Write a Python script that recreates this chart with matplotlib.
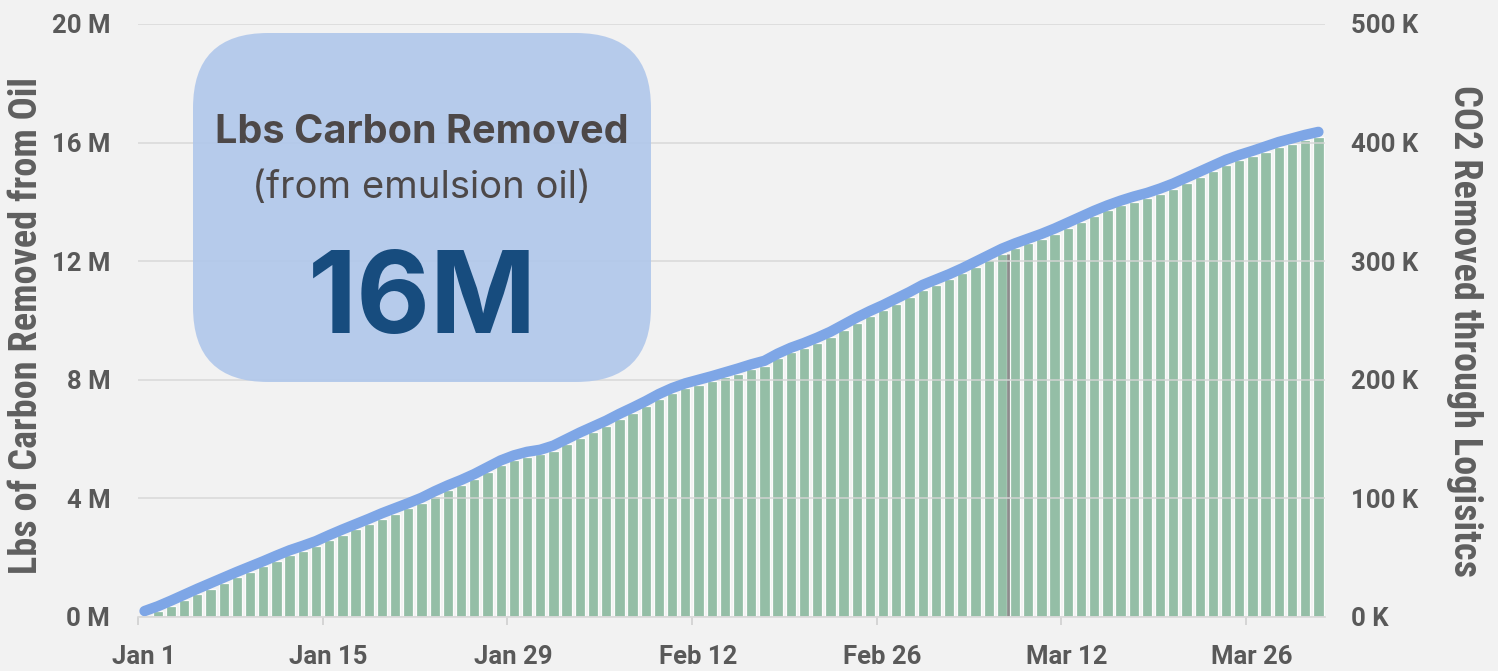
import numpy as np
import matplotlib.pyplot as plt
from matplotlib.patches import FancyBboxPatch
from matplotlib.transforms import ScaledTranslation

plt.rcParams['font.family'] = ['Roboto', 'DejaVu Sans']

# daily cumulative values, Jan 1 .. Mar 31
oil_lbs_m = [0.2, 0.36, 0.55, 0.75, 0.95, 1.14, 1.33, 1.52, 1.7, 1.88,
             2.07, 2.25, 2.4, 2.56, 2.76, 2.95, 3.13, 3.31, 3.5, 3.67,
             3.84, 4.02, 4.24, 4.44, 4.62, 4.82, 5.05, 5.28, 5.45, 5.57,
             5.64, 5.78, 6.0, 6.22, 6.42, 6.62, 6.85, 7.06, 7.28, 7.52,
             7.72, 7.88, 8.0, 8.12, 8.25, 8.38, 8.52, 8.64, 8.88, 9.08,
             9.24, 9.42, 9.62, 9.86, 10.1, 10.32, 10.52, 10.74, 10.96, 11.2,
             11.38, 11.56, 11.76, 11.98, 12.2, 12.42, 12.6, 12.76, 12.92, 13.1,
             13.3, 13.5, 13.7, 13.88, 14.04, 14.18, 14.3, 14.45, 14.62, 14.82,
             15.02, 15.22, 15.42, 15.58, 15.72, 15.87, 16.02, 16.14, 16.26, 16.36]
co2_k = [1, 5, 9, 14, 19, 24, 29, 34, 38, 43,
         47, 52, 56, 60, 65, 69, 74, 78, 83, 87,
         92, 96, 102, 107, 111, 116, 122, 128, 132, 135,
         137, 140, 146, 151, 156, 161, 167, 172, 178, 184,
         189, 193, 196, 199, 202, 205, 209, 212, 218, 223,
         227, 231, 236, 242, 248, 254, 259, 264, 270, 276,
         280, 285, 290, 295, 301, 306, 311, 315, 319, 323,
         328, 333, 338, 343, 347, 350, 353, 357, 361, 366,
         371, 376, 381, 385, 389, 392, 396, 399, 402, 405]
date_ticks = [0, 14, 28, 42, 56, 70, 84]
date_labels = ['Jan 1', 'Jan 15', 'Jan 29', 'Feb 12', 'Feb 26', 'Mar 12', 'Mar 26']
left_ticks = [0, 4, 8, 12, 16, 20]
right_ticks = [0, 100, 200, 300, 400, 500]
marker_day = 65

days = np.arange(len(oil_lbs_m))
bg = '#f2f2f2'
tick_col = '#595959'

fig = plt.figure(figsize=(14.98, 6.71), dpi=100, facecolor=bg)
ax = fig.add_axes([0.0921, 0.0805, 0.7924, 0.8838])
ax2 = ax.twinx()
ax.set_zorder(ax2.get_zorder() + 1)
ax.patch.set_visible(False)
ax2.patch.set_facecolor(bg)

ax2.bar(days + 0.5, co2_k, width=0.78, color='#94bea6', edgecolor='#fbfbfb', linewidth=0.9)
ax2.vlines(marker_day + 1, 0, co2_k[marker_day], color='#8c8c8c', lw=2, zorder=3)
ax.plot(days + 0.5, oil_lbs_m, color='#7ea6e6', lw=7.5,
        solid_capstyle='round', solid_joinstyle='round')

ax.set_xlim(0, 90)
ax.set_ylim(0, 20)
ax2.set_ylim(0, 500)

ax.set_yticks(left_ticks, labels=['%d M' % v for v in left_ticks], fontweight='bold')
ax2.set_yticks(right_ticks, labels=['%d K' % v for v in right_ticks], fontweight='bold')
ax.set_xticks(date_ticks, labels=date_labels, fontweight='bold')

ax.set_axisbelow(True)
ax.grid(axis='y', color='#d6d6d6', lw=1.2, alpha=0.85)
ax.tick_params(axis='y', length=0, pad=20, labelsize=18.5, labelcolor=tick_col)
ax2.tick_params(axis='y', length=0, pad=19, labelsize=18.5, labelcolor=tick_col)
ax.tick_params(axis='x', length=6, width=1.2, color='#d0d0d0', pad=14,
               labelsize=18.5, labelcolor=tick_col)
# date labels sit a little to the right of their ticks
shift = ScaledTranslation(0.06, 0, fig.dpi_scale_trans)
for lbl in ax.get_xticklabels():
    lbl.set_transform(lbl.get_transform() + shift)

for s in ['top', 'left', 'right']:
    ax.spines[s].set_visible(False)
ax.spines['bottom'].set_color('#d9d9d9')
ax.spines['bottom'].set_linewidth(1.2)
for s in ax2.spines.values():
    s.set_visible(False)

lab_font = ['Liberation Sans Narrow', 'Roboto Condensed', 'DejaVu Sans']
fig.text(0.27, 3.45, 'Lbs of Carbon Removed from Oil', transform=fig.dpi_scale_trans,
         rotation=90, ha='center', va='center', fontsize=27.5, fontweight='bold',
         color='#5f5f5f', family=lab_font)
fig.text(14.64, 3.40, 'CO2 Removed through Logisitcs', transform=fig.dpi_scale_trans,
         rotation=270, ha='center', va='center', fontsize=27.5, fontweight='bold',
         color='#5f5f5f', family=lab_font)

# summary card
box = FancyBboxPatch((1.93, 2.89), 4.58, 3.49, boxstyle='round,pad=0,rounding_size=0.75',
                     transform=fig.dpi_scale_trans, fc='#b0c7eb', ec='none',
                     alpha=0.9, zorder=10)
fig.add_artist(box)
card_font = ['Inter', 'DejaVu Sans']
fig.text(4.22, 5.28, 'Lbs Carbon Removed', transform=fig.dpi_scale_trans,
         ha='center', va='baseline', fontsize=28.5, fontweight='bold',
         color='#4d4848', family=card_font, zorder=11)
fig.text(4.22, 4.73, '(from emulsion oil)', transform=fig.dpi_scale_trans,
         ha='center', va='baseline', fontsize=27.5, color='#4d4848',
         family=card_font, zorder=11)
fig.text(4.22, 3.38, '16M', transform=fig.dpi_scale_trans,
         ha='center', va='baseline', fontsize=82, fontweight='bold',
         color='#174c7e', family=card_font, zorder=11)

fig.savefig('out.png', dpi=100, facecolor=fig.get_facecolor())
